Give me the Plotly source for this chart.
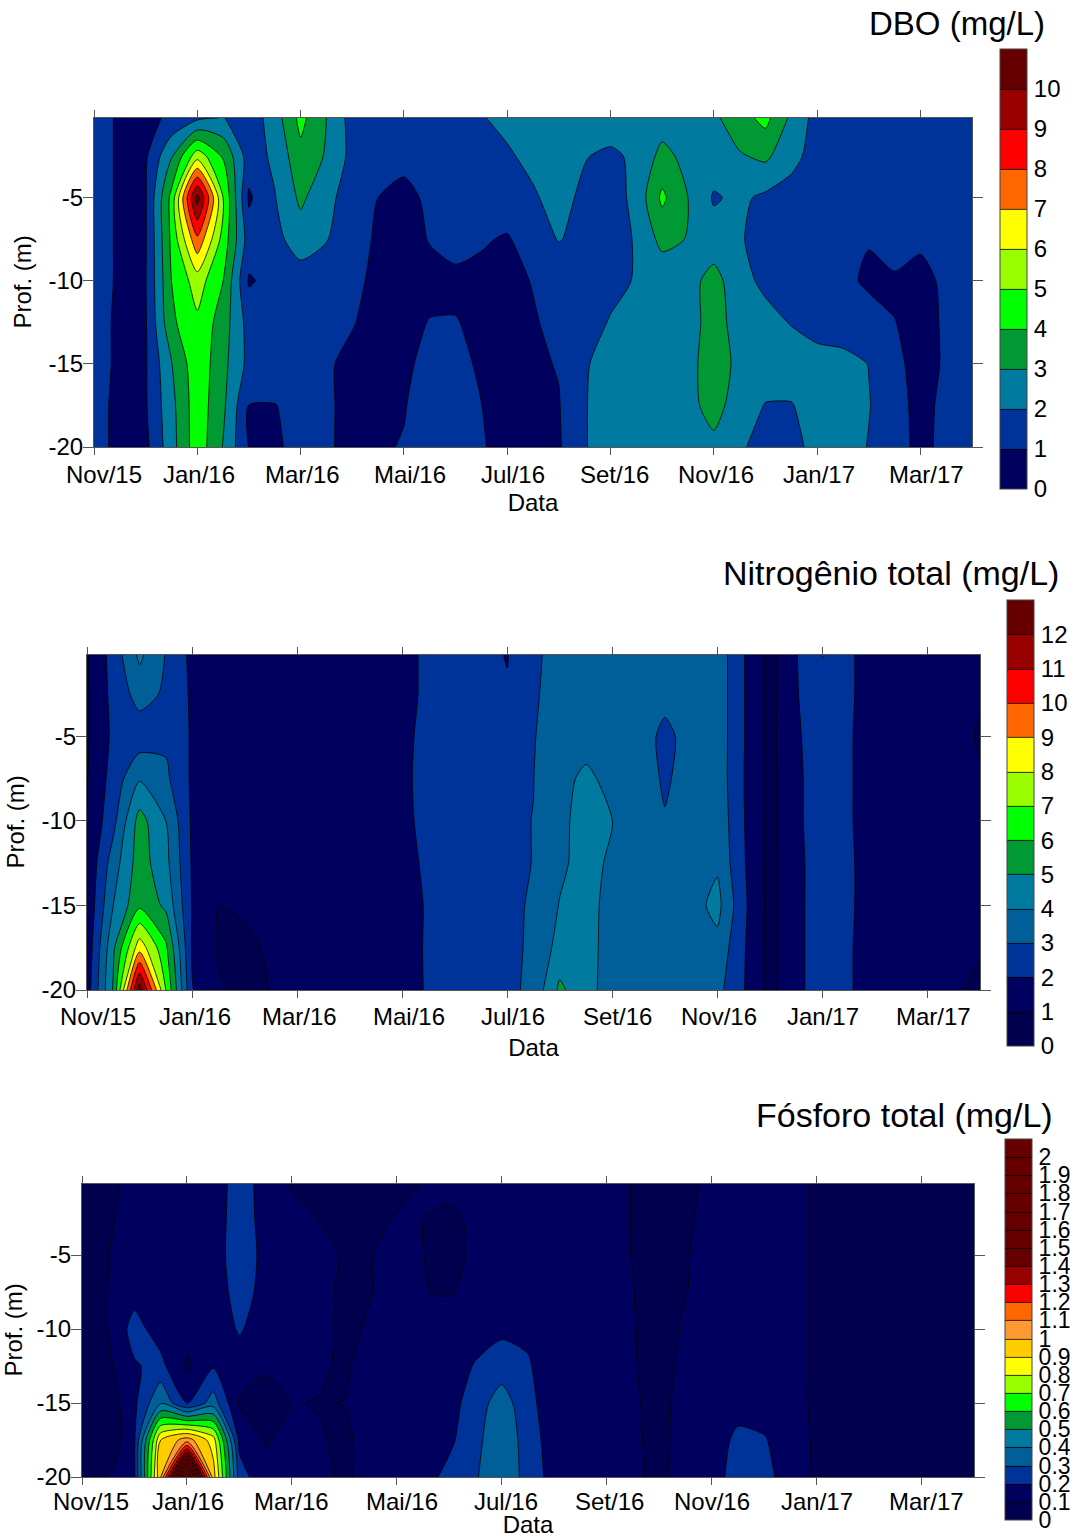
import numpy as np
import plotly.graph_objects as go

# ---------- shared axes ----------
MONTHS = [i * 0.5 for i in range(35)]          # months since Nov/15, half-month grid
DEPTHS = [-0.2, -2.5, -5, -7.5, -10, -12.5, -15, -17.5, -20]
TICK_MONTHS = [0, 2, 4, 6, 8, 10, 12, 14, 16]
TICK_LABELS = ["Nov/15", "Jan/16", "Mar/16", "Mai/16", "Jul/16", "Set/16", "Nov/16", "Jan/17", "Mar/17"]
DEPTH_TICKS = [-20, -15, -10, -5]

# ---------- DBO (mg/L), one list per depth ----------
DBO_00 = [1.3,.9,.7,1.2,1.8,2.05,1.4,2.5,4.3,3.0,1.6,1.4,1.3,1.4,1.6,1.95,2.2,2.4,2.5,2.5,2.6,2.5,2.5,2.6,2.8,3.6,4.3,2.8,1.6,1.5,1.4,1.4,1.4,1.4,1.5]
DBO_02 = [1.3,.9,.85,2.9,5.6,3.9,1.5,2.2,3.7,2.9,1.7,1.5,1.3,1.4,1.6,1.7,1.9,2.2,2.2,2.05,1.8,2.2,3.3,2.7,2.5,2.9,3.2,2.3,1.6,1.4,1.3,1.3,1.3,1.4,1.5]
DBO_05 = [1.3,.9,.9,4.3,10.4,5.0,.85,1.95,3.2,2.3,1.5,1.0,.7,1.2,1.4,1.5,1.6,1.9,2.3,1.8,1.5,2.3,4.2,3.0,1.9,2.2,1.8,1.6,1.5,1.5,1.4,1.4,1.4,1.4,1.5]
DBO_07 = [1.3,.9,.9,4.2,7.8,4.6,1.5,1.7,2.5,2.05,1.3,.9,.6,1.05,1.3,1.1,.9,1.5,2.05,1.7,1.5,2.1,3.3,2.95,2.4,2.1,1.6,1.5,1.5,1.5,1.07,1.5,1.17,1.4,1.5]
DBO_10 = [1.3,.9,.95,4.0,5.5,4.0,.9,1.3,1.5,1.5,1.2,.8,.6,.7,.8,.75,.7,1.05,1.3,1.6,1.8,2.05,2.3,2.6,3.4,2.3,1.8,1.6,1.5,1.3,.8,.85,.7,1.2,1.4]
DBO_12 = [1.3,.85,.9,3.8,4.8,3.5,1.6,1.4,1.3,1.2,1.05,.7,.7,1.04,1.04,.8,.8,.9,1.3,1.7,2.05,2.3,2.4,2.7,3.3,2.7,2.3,1.95,1.6,1.5,1.5,1.02,.75,1.1,1.4]
DBO_15 = [1.3,.85,.9,2.95,4.7,3.3,1.7,1.4,1.3,1.1,.8,.65,.8,1.3,1.3,.85,.7,.85,1.05,1.9,2.4,2.5,2.5,2.75,3.4,2.8,2.6,2.5,2.4,2.3,1.98,1.2,.7,1.1,1.4]
DBO_17 = [1.2,.85,.9,2.7,4.6,3.2,.98,.98,1.2,1.1,.8,.7,.95,1.4,1.4,1.01,.7,.75,.95,1.95,2.4,2.5,2.5,2.75,3.3,2.6,1.95,1.95,2.4,2.3,2.05,1.3,.75,1.2,1.4]
DBO_20 = [1.2,.85,.75,2.6,4.6,2.95,.95,.9,1.2,1.07,.85,.9,1.05,1.3,1.3,1.05,.8,.7,.9,1.95,2.4,2.5,2.5,2.6,2.8,2.15,1.6,1.7,2.3,2.5,1.95,1.3,.8,1.2,1.4]

# ---------- Nitrogenio total (mg/L), one list per depth ----------
NIT_00 = [.9,2.4,4.2,2.95,1.75,1.5,1.4,1.4,1.4,1.4,1.4,1.5,1.7,2.2,2.3,2.3,1.95,2.9,3.2,3.3,3.4,3.3,3.2,3.2,3.6,2.05,.7,1.95,3.05,2.15,1.5,1.4,1.3,1.2,1.1]
NIT_02 = [.9,2.3,3.4,2.85,1.85,1.4,1.4,1.4,1.4,1.4,1.4,1.5,1.7,2.2,2.3,2.4,2.1,2.94,3.2,3.3,3.4,3.3,3.25,3.3,3.6,2.05,.7,1.95,2.5,2.15,1.5,1.4,1.3,1.2,1.05]
NIT_05 = [.9,2.2,2.4,2.8,1.9,1.4,1.4,1.4,1.4,1.4,1.4,1.5,1.75,2.3,2.4,2.6,2.7,2.96,3.4,3.6,3.7,3.4,2.8,3.3,3.6,2.05,.7,1.9,2.4,2.1,1.5,1.4,1.3,1.15,.95]
NIT_07 = [.95,2.4,3.9,3.2,1.85,1.4,1.4,1.4,1.4,1.4,1.5,1.6,1.75,2.4,2.5,2.7,2.9,2.99,3.7,4.2,3.7,3.4,2.9,3.3,3.6,2.02,.7,1.85,2.4,2.1,1.5,1.4,1.3,1.15,1.05]
NIT_10 = [1.02,2.7,5.4,4.0,1.85,1.3,1.3,1.3,1.4,1.4,1.5,1.6,1.75,2.3,2.4,2.7,2.9,3.01,3.75,4.4,4.02,3.5,3.05,3.4,3.7,2.05,.7,1.85,2.4,2.1,1.5,1.4,1.3,1.2,1.1]
NIT_12 = [1.1,3.5,5.5,4.3,1.9,1.25,1.25,1.3,1.4,1.4,1.5,1.6,1.65,2.2,2.3,2.5,2.8,3.02,3.8,4.4,3.8,3.4,3.2,3.5,3.85,2.1,.7,1.8,2.4,2.15,1.5,1.4,1.3,1.2,1.1]
NIT_15 = [1.2,4.0,5.8,4.8,1.95,.99,1.1,1.25,1.3,1.4,1.5,1.6,1.6,2.1,2.3,2.6,2.8,3.1,4.05,4.3,3.7,3.4,3.3,3.6,4.3,2.2,.7,1.8,2.4,2.15,1.5,1.4,1.3,1.2,1.15]
NIT_17 = [1.3,4.8,8.6,6.2,1.9,.9,.85,1.1,1.3,1.4,1.5,1.6,1.65,2.1,2.2,2.4,2.85,3.1,4.4,4.35,3.6,3.4,3.3,3.4,3.7,2.1,.7,1.8,2.4,2.1,1.5,1.4,1.3,1.2,1.1]
NIT_20 = [1.5,5.1,12.6,7.0,2.05,1.1,.8,1.02,1.3,1.4,1.5,1.6,1.6,2.1,2.2,2.4,2.7,3.3,5.2,4.3,3.6,3.4,3.3,3.4,3.3,2.05,.7,1.8,2.4,2.1,1.5,1.4,1.3,1.08,.8]

# ---------- Fosforo total (mg/L), one list per month column, surface to bottom ----------
FOS_00_0 = [.06,.06,.06,.06,.06,.06,.06,.07,.101]
FOS_00_5 = [.085,.09,.099,.101,.101,.08,.04,.02,.105]
FOS_01_0 = [.12,.13,.13,.16,.24,.19,.18,.19,.19]
FOS_01_5 = [.13,.13,.13,.13,.15,.23,.39,.9,1.0]
FOS_02_0 = [.13,.13,.13,.13,.15,.08,.19,1.05,2.1]
FOS_02_5 = [.13,.13,.13,.13,.14,.19,.35,.85,.95]
FOS_03_0 = [.26,.27,.28,.25,.21,.15,.09,.17,.25]
FOS_03_5 = [.15,.15,.16,.16,.15,.11,.07,.095,.12]
FOS_04_0 = [.095,.12,.14,.14,.14,.12,.102,.12,.13]
FOS_04_5 = [.08,.099,.12,.115,.115,.11,.098,.105,.12]
FOS_05_0 = [.08,.08,.095,.09,.09,.09,.101,.09,.09]
FOS_05_5 = [.08,.08,.099,.099,.105,.13,.13,.12,.12]
FOS_06_0 = [.08,.105,.11,.11,.12,.13,.13,.13,.14]
FOS_06_5 = [.102,.101,.101,.102,.13,.12,.13,.13,.16]
FOS_07_0 = [.13,.08,.07,.095,.14,.13,.16,.18,.23]
FOS_07_5 = [.13,.12,.12,.12,.14,.21,.25,.27,.29]
FOS_08_0 = [.13,.13,.13,.14,.18,.25,.35,.38,.38]
FOS_08_5 = [.13,.13,.13,.14,.18,.21,.23,.25,.26]
FOS_09_0 = [.13,.13,.13,.13,.12,.14,.14,.15,.16]
FOS_09_5 = [.12,.12,.12,.12,.12,.12,.12,.13,.13]
FOS_10_0 = [.12,.12,.11,.11,.11,.11,.11,.12,.12]
FOS_10_5 = [.098,.098,.099,.101,.102,.103,.104,.106,.108]
FOS_11_0 = [.08,.08,.08,.08,.085,.085,.09,.09,.09]
FOS_11_5 = [.09,.095,.098,.099,.105,.11,.112,.115,.12]
FOS_12_0 = [.11,.11,.11,.11,.11,.12,.12,.13,.12]
FOS_12_5 = [.12,.12,.12,.12,.12,.13,.15,.23,.28]
FOS_13_0 = [.12,.12,.12,.12,.12,.13,.14,.21,.24]
FOS_13_5 = [.12,.12,.12,.12,.12,.12,.12,.13,.14]
FOS_14_0 = [.09,.09,.09,.09,.09,.09,.09,.09,.09]
FOS_14_5 = [.08,.08,.08,.08,.08,.08,.08,.08,.08]
FOS_15_0 = [.07,.07,.07,.07,.07,.07,.07,.07,.07]
FOS_15_5 = [.07,.07,.07,.07,.07,.07,.07,.07,.07]
FOS_16_0 = [.07,.07,.07,.07,.07,.07,.07,.07,.07]
FOS_16_5 = [.07,.07,.07,.07,.07,.07,.07,.07,.07]
FOS_17_0 = [.07,.07,.07,.07,.07,.07,.07,.07,.07]

# ---------- colour-bar labels ----------
DBO_BAR = list(range(0, 11))
NIT_BAR = list(range(0, 13))
FOS_BAR = [i / 10 for i in range(21)]
FOS_BAR_TEXT = ["0", "0.1", "0.2", "0.3", "0.4", "0.5", "0.6", "0.7", "0.8", "0.9", "1",
                "1.1", "1.2", "1.3", "1.4", "1.5", "1.6", "1.7", "1.8", "1.9", "2"]

# ---------- band colours ----------
DBO_COLORS = ["#00005F", "#003399", "#007B9F", "#009933", "#00FF00", "#99FF00", "#FFFF00",
              "#FF6600", "#FF0000", "#990000", "#660000"]
NIT_COLORS = ["#00004F", "#00005F", "#003399", "#005E99", "#007B9F", "#009933", "#00FF00",
              "#99FF00", "#FFFF00", "#FF6600", "#FF0000", "#990000", "#660000"]
FOS_COLORS = ["#00004F", "#00005F", "#003399", "#005E99", "#007B9F", "#009933", "#00FF00",
              "#99FF00", "#FFFF00", "#FFCC00", "#FF9933", "#FF6600", "#FF0000", "#990000"] + ["#660000"] * 7

W, H = 1070, 1538
FONT = "Liberation Sans, Arial, sans-serif"
AXC = "#555555"


def stepped(colors):
    n = len(colors)
    out = []
    for i, c in enumerate(colors):
        out += [[i / n, c], [(i + 1) / n, c]]
    return out


PANELS = [
    dict(z=np.array([DBO_00, DBO_02, DBO_05, DBO_07, DBO_10, DBO_12, DBO_15, DBO_17, DBO_20]),
         colors=DBO_COLORS, step=1, top=11, bar=DBO_BAR, bartext=[str(v) for v in DBO_BAR], barfont=24,
         box=(94, 972, 118, 447), barbox=(1000, 1027, 49, 489),
         title="DBO (mg/L)", title_size=33, title_xy=(1047, 23), ylab_x=22, lab_shift=27, data_shift=59,
         offs=[10, 2, 2, 6, 6, 4, 2, 2, 6]),
    dict(z=np.array([NIT_00, NIT_02, NIT_05, NIT_07, NIT_10, NIT_12, NIT_15, NIT_17, NIT_20]),
         colors=NIT_COLORS, step=1, top=13, bar=NIT_BAR, bartext=[str(v) for v in NIT_BAR], barfont=24,
         box=(87, 980, 655, 990), barbox=(1007, 1034, 600, 1046),
         title="Nitrogênio total (mg/L)", title_size=34, title_xy=(1061, 573), ylab_x=15, lab_shift=26, data_shift=61,
         offs=[11, 3, 2, 7, 6, 5, 2, 1, 6]),
    dict(z=np.array([FOS_00_0, FOS_00_5, FOS_01_0, FOS_01_5, FOS_02_0, FOS_02_5, FOS_03_0, FOS_03_5, FOS_04_0,
                     FOS_04_5, FOS_05_0, FOS_05_5, FOS_06_0, FOS_06_5, FOS_07_0, FOS_07_5, FOS_08_0, FOS_08_5,
                     FOS_09_0, FOS_09_5, FOS_10_0, FOS_10_5, FOS_11_0, FOS_11_5, FOS_12_0, FOS_12_5, FOS_13_0,
                     FOS_13_5, FOS_14_0, FOS_14_5, FOS_15_0, FOS_15_5, FOS_16_0, FOS_16_5, FOS_17_0]).T,
         colors=FOS_COLORS, step=0.1, top=2.1, bar=FOS_BAR, bartext=FOS_BAR_TEXT, barfont=23,
         box=(82, 974, 1184, 1477), barbox=(1005, 1032, 1139, 1520),
         title="Fósforo total (mg/L)", title_size=34, title_xy=(1055, 1115), ylab_x=13, lab_shift=24, data_shift=56,
         offs=[9, 1, 0, 5, 4, 3, 0, 0, 5]),
]

fig = go.Figure()
layout = dict(
    width=W, height=H, margin=dict(l=0, r=0, t=0, b=0, autoexpand=False), autosize=False,
    paper_bgcolor="white", plot_bgcolor="white", showlegend=False,
    font=dict(family=FONT, size=24, color="black"),
)
annotations = []

for i, p in enumerate(PANELS, start=1):
    x0, x1, y0, y1 = p["box"]
    bx0, bx1, by0, by1 = p["barbox"]
    suffix = "" if i == 1 else str(i)
    fig.add_trace(go.Contour(
        x=MONTHS, y=DEPTHS, z=p["z"], xaxis=f"x{suffix}", yaxis=f"y{suffix}",
        autocontour=False,
        contours=dict(start=p["step"], end=p["top"] - p["step"], size=p["step"], coloring="fill", showlines=True),
        line=dict(color="black", width=0.8, smoothing=0.7),
        colorscale=stepped(p["colors"]), zmin=0, zmax=p["top"],
        hoverinfo="skip",
        colorbar=dict(
            x=bx0 / W, xanchor="left", xpad=0, ypad=0,
            y=1 - by0 / H, yanchor="top", len=by1 - by0, lenmode="pixels",
            thickness=bx1 - bx0, thicknessmode="pixels",
            outlinecolor="#444444", outlinewidth=1, borderwidth=0,
            tickmode="array", tickvals=p["bar"], ticktext=p["bartext"],
            ticks="outside", ticklen=2, tickcolor="rgba(0,0,0,0)",
            tickfont=dict(family=FONT, size=p["barfont"], color="black"),
        ),
    ))
    layout[f"xaxis{suffix}"] = dict(
        domain=[x0 / W, x1 / W], range=[0, 17], anchor=f"y{suffix}",
        tickmode="array", tickvals=TICK_MONTHS, ticktext=TICK_LABELS, showticklabels=False,
        ticks="outside", ticklen=7, tickcolor=AXC, tickwidth=1,
        showline=True, linecolor=AXC, linewidth=1, mirror="allticks", showgrid=False, zeroline=False,
        title=dict(text="Data", font=dict(family=FONT, size=24), standoff=p["data_shift"] - 19),
    )
    layout[f"yaxis{suffix}"] = dict(
        domain=[1 - y1 / H, 1 - y0 / H], range=[-20, -0.2], anchor=f"x{suffix}",
        tickmode="array", tickvals=DEPTH_TICKS, ticktext=[str(v) for v in DEPTH_TICKS],
        ticks="outside", ticklen=10, tickcolor=AXC, tickwidth=1, ticklabelstandoff=-5,
        showline=True, linecolor=AXC, linewidth=1, mirror="allticks", showgrid=False, zeroline=False,
        tickfont=dict(family=FONT, size=24, color="black"),
    )
    annotations.append(dict(
        text="Prof. (m)", textangle=-90, xref="paper", yref=f"y{suffix} domain",
        x=p["ylab_x"] / W, y=0.5, xanchor="center", yanchor="middle", showarrow=False,
        font=dict(family=FONT, size=24, color="black"),
    ))
    for m, lab, off in zip(TICK_MONTHS, TICK_LABELS, p["offs"]):
        annotations.append(dict(
            text=lab, xref=f"x{suffix}", yref=f"y{suffix} domain", x=m, y=0,
            xanchor="center", yanchor="middle", xshift=off, yshift=-p["lab_shift"], showarrow=False,
            font=dict(family=FONT, size=24, color="black"),
        ))
    annotations.append(dict(
        text=p["title"], xref="paper", yref="paper", x=p["title_xy"][0] / W, y=1 - p["title_xy"][1] / H,
        xanchor="right", yanchor="middle", showarrow=False,
        font=dict(family=FONT, size=p["title_size"], color="black"),
    ))

layout["annotations"] = annotations
fig.update_layout(**layout)
POST = ("document.documentElement.style.margin='0';document.documentElement.style.overflow='hidden';"
        "document.body.style.margin='0';document.body.style.overflow='hidden';"
        "document.querySelectorAll('.plotly-graph-div,.svg-container').forEach(function(e){e.style.overflow='hidden';});")
fig.write_html("out.html", post_script=POST, config={"displayModeBar": False})
